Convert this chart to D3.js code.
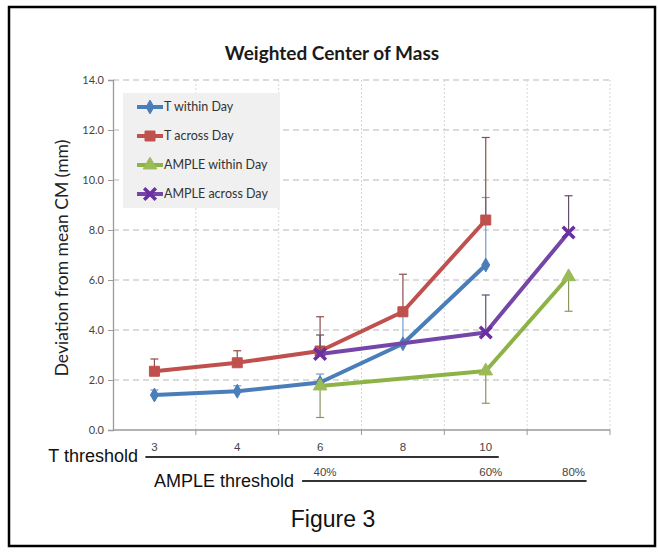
<!DOCTYPE html>
<html>
<head>
<meta charset="utf-8">
<script src="https://cdn.jsdelivr.net/npm/d3@7"></script>
<style>
  body { margin: 0; background: #fff; }
  svg { display: block; }
</style>
</head>
<body>
<svg id="chart" width="658" height="552"></svg>
<script>
// category slots along the x axis (6 bands)
var slots = [0, 1, 2, 3, 4, 5];
var tThresholds = ["3", "4", "6", "8", "10"];
var tSlots = [0, 1, 2, 3, 4];
var ampleThresholds = ["40%", "60%", "80%"];
var ampleSlots = [2, 4, 5];

// series values (mm)
var tWithinDay = [1.4, 1.55, 1.9, 3.45, 6.6];
var tWithinErr = [0.2, 0.22, 0.34, 1.1, 2.7];
var tAcrossDay = [2.35, 2.69, 3.16, 4.73, 8.4];
var tAcrossErr = [0.49, 0.48, 1.37, 1.5, 3.3];
var ampleWithinDay = [1.76, 2.36, 6.13];
var ampleWithinErr = [-1.26, -1.29, -1.38];
var ampleAcrossDay = [3.04, 3.9, 7.9];
var ampleAcrossErr = [0.76, 1.5, 1.47];

var yTicks = [0, 2, 4, 6, 8, 10, 12, 14];

var svg = d3.select("#chart");

var plotLeft = 113, plotRight = 610, plotTop = 80, plotBottom = 430;

var x = d3.scaleBand().domain(slots).range([plotLeft, plotRight]).padding(0);
var y = d3.scaleLinear().domain([0, 14]).range([plotBottom, plotTop]);
function cx(s) { return x(s) + x.bandwidth() / 2; }

// outer frame
svg.append("rect")
  .attr("x", 9).attr("y", 7).attr("width", 646).attr("height", 539)
  .attr("fill", "none").attr("stroke", "#000").attr("stroke-width", 2.5);

// title
svg.append("text")
  .attr("x", 332).attr("y", 60)
  .attr("text-anchor", "middle")
  .style("font-family", "Lato, sans-serif").style("font-weight", "bold")
  .style("font-size", "19px").attr("fill", "#1a1a1a")
  .text("Weighted Center of Mass");

// grid
svg.append("g").selectAll("line").data(yTicks.slice(1)).enter().append("line")
  .attr("x1", plotLeft).attr("x2", plotRight)
  .attr("y1", function(d) { return y(d); }).attr("y2", function(d) { return y(d); })
  .attr("stroke", "#cfcfcf").attr("stroke-width", 1.3).attr("stroke-dasharray", "6,4");

svg.append("g").selectAll("line").data(slots).enter().append("line")
  .attr("x1", function(d) { return x(d) + x.bandwidth(); })
  .attr("x2", function(d) { return x(d) + x.bandwidth(); })
  .attr("y1", plotTop).attr("y2", plotBottom)
  .attr("stroke", "#d6d6d6").attr("stroke-width", 1).attr("stroke-dasharray", "2,2");

// y axis
var yAxis = svg.append("g").attr("transform", "translate(" + plotLeft + ",0)")
  .call(d3.axisLeft(y).tickValues(yTicks).tickFormat(d3.format(".1f")).tickSize(5).tickPadding(4));
yAxis.select(".domain").attr("stroke", "#9a9a9a").attr("stroke-width", 1.3);
yAxis.selectAll(".tick line").attr("stroke", "#9a9a9a");
yAxis.selectAll("text").style("font-family", "Lato, sans-serif").style("font-size", "11px").attr("fill", "#444");

// x axis (band boundaries only)
svg.append("line").attr("x1", plotLeft).attr("x2", plotRight).attr("y1", plotBottom).attr("y2", plotBottom)
  .attr("stroke", "#9a9a9a").attr("stroke-width", 1.3);
svg.append("g").selectAll("line").data(slots).enter().append("line")
  .attr("x1", function(d) { return x(d) + x.bandwidth(); })
  .attr("x2", function(d) { return x(d) + x.bandwidth(); })
  .attr("y1", plotBottom).attr("y2", plotBottom + 5)
  .attr("stroke", "#9a9a9a");

// y axis title
svg.append("text")
  .attr("transform", "translate(68,258) rotate(-90)")
  .attr("text-anchor", "middle")
  .style("font-family", "Lato, sans-serif").style("font-size", "17.5px").attr("fill", "#222")
  .text("Deviation from mean CM (mm)");

// series
var series = [
  { name: "T within Day", slots: tSlots, values: tWithinDay, err: tWithinErr, color: "#4a7ebb", mark: "#4a7ebb", errColor: "#6f9fd0", symbol: d3.symbolDiamond, size: 55 },
  { name: "T across Day", slots: tSlots, values: tAcrossDay, err: tAcrossErr, color: "#c0504d", mark: "#c0504d", errColor: "#8e4b4b", symbol: d3.symbolSquare, size: 100 },
  { name: "AMPLE within Day", slots: ampleSlots, values: ampleWithinDay, err: ampleWithinErr, color: "#8db346", mark: "#9bbb59", errColor: "#8a9560", symbol: d3.symbolTriangle, size: 80 },
  { name: "AMPLE across Day", slots: ampleSlots, values: ampleAcrossDay, err: ampleAcrossErr, color: "#7446a8", mark: "#6a2fa0", errColor: "#5e4f70", symbol: d3.symbolX, size: 90 }
];

var line = d3.line().x(function(d) { return cx(d.s); }).y(function(d) { return y(d.v); });

series.forEach(function(sr) {
  var pts = sr.values.map(function(v, i) { return { s: sr.slots[i], v: v, e: sr.err[i] }; });
  var g = svg.append("g");

  // error bars
  g.selectAll(".eb").data(pts).enter().append("line")
    .attr("x1", function(d) { return cx(d.s); }).attr("x2", function(d) { return cx(d.s); })
    .attr("y1", function(d) { return y(d.v); }).attr("y2", function(d) { return y(d.v + d.e); })
    .attr("stroke", sr.errColor).attr("stroke-width", 1.2);
  g.selectAll(".cap").data(pts).enter().append("line")
    .attr("x1", function(d) { return cx(d.s) - 4; }).attr("x2", function(d) { return cx(d.s) + 4; })
    .attr("y1", function(d) { return y(d.v + d.e); }).attr("y2", function(d) { return y(d.v + d.e); })
    .attr("stroke", sr.errColor).attr("stroke-width", 1.2);

  g.append("path").datum(pts).attr("d", line)
    .attr("fill", "none").attr("stroke", sr.color).attr("stroke-width", 4).attr("stroke-linejoin", "round");

  var sym = d3.symbol().type(sr.symbol).size(sr.size);
  g.selectAll(".mk").data(pts).enter().append("path")
    .attr("d", sym)
    .attr("transform", function(d) { return "translate(" + cx(d.s) + "," + y(d.v) + ")"; })
    .attr("fill", sr.symbol === d3.symbolX ? "none" : sr.mark)
    .attr("stroke", sr.mark)
    .attr("stroke-width", sr.symbol === d3.symbolX ? 3.5 : 1);
});

// legend
var lg = svg.append("g");
lg.append("rect").attr("x", 123).attr("y", 93).attr("width", 157).attr("height", 115).attr("fill", "#f0f0f0");
series.forEach(function(sr, i) {
  var ly = 107 + i * 29;
  lg.append("line").attr("x1", 137).attr("x2", 163).attr("y1", ly).attr("y2", ly)
    .attr("stroke", sr.color).attr("stroke-width", 4);
  lg.append("path").attr("d", d3.symbol().type(sr.symbol).size(sr.size)())
    .attr("transform", "translate(150," + ly + ")")
    .attr("fill", sr.symbol === d3.symbolX ? "none" : sr.mark)
    .attr("stroke", sr.mark).attr("stroke-width", sr.symbol === d3.symbolX ? 3.5 : 1);
  lg.append("text").attr("x", 164).attr("y", ly + 4)
    .style("font-family", "Lato, sans-serif").style("font-size", "12.5px").attr("fill", "#333")
    .text(sr.name);
});

// threshold scales under the axis
var labFont = "'Liberation Sans', Arial, sans-serif";
svg.append("text").attr("x", 138).attr("y", 462).attr("text-anchor", "end")
  .style("font-family", labFont).style("font-size", "18px").attr("fill", "#111").text("T threshold");
svg.append("line").attr("x1", cx(tSlots[0]) - 9).attr("x2", cx(tSlots[tSlots.length - 1]) + 13)
  .attr("y1", 457).attr("y2", 457).attr("stroke", "#333").attr("stroke-width", 2);
svg.append("g").selectAll("text").data(tThresholds).enter().append("text")
  .attr("x", function(d, i) { return cx(tSlots[i]); }).attr("y", 451)
  .attr("text-anchor", "middle")
  .style("font-family", labFont).style("font-size", "11.5px").attr("fill", "#444")
  .text(function(d) { return d; });

svg.append("text").attr("x", 294).attr("y", 487).attr("text-anchor", "end")
  .style("font-family", labFont).style("font-size", "18px").attr("fill", "#111").text("AMPLE threshold");
svg.append("line").attr("x1", cx(ampleSlots[0]) - 18).attr("x2", cx(ampleSlots[ampleSlots.length - 1]) + 18)
  .attr("y1", 481).attr("y2", 481).attr("stroke", "#333").attr("stroke-width", 2);
svg.append("g").selectAll("text").data(ampleThresholds).enter().append("text")
  .attr("x", function(d, i) { return cx(ampleSlots[i]) + 5; }).attr("y", 476)
  .attr("text-anchor", "middle")
  .style("font-family", labFont).style("font-size", "11.5px").attr("fill", "#444")
  .text(function(d) { return d; });

svg.append("text").attr("x", 333).attr("y", 527).attr("text-anchor", "middle")
  .style("font-family", labFont).style("font-size", "23px").attr("fill", "#111").text("Figure 3");
</script>
</body>
</html>
